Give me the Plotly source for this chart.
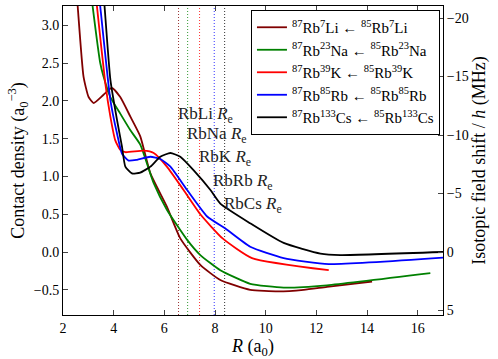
import plotly.graph_objects as go

# ---- data ----
R_li = [2.50, 2.58, 2.81, 3.01, 3.21, 3.60, 3.93, 4.26, 4.66, 5.05, 5.45, 6.10, 6.63, 7.42, 8.21, 9.39, 10.5, 11.5, 12.42, 14.2]
C_li = [3.60, 3.25, 2.32, 2.05, 1.97, 2.08, 2.17, 2.05, 1.79, 1.53, 1.04, 0.60, 0.18, -0.17, -0.37, -0.50, -0.52, -0.50, -0.46, -0.39]

R_na = [3.05, 3.17, 3.47, 3.60, 3.87, 4.26, 4.66, 5.05, 5.58, 6.10, 6.90, 7.42, 8.21, 9.39, 10.71, 12.42, 16.5]
C_na = [3.60, 3.25, 2.50, 2.32, 2.05, 1.83, 1.61, 1.42, 0.91, 0.56, 0.16, -0.04, -0.24, -0.42, -0.47, -0.44, -0.28]

R_k = [3.25, 3.34, 3.67, 3.87, 4.06, 4.26, 4.46, 5.18, 5.58, 6.10, 6.76, 7.42, 8.30, 9.46, 12.49]
C_k = [3.55, 3.25, 2.23, 1.79, 1.48, 1.35, 1.32, 1.34, 1.31, 1.13, 0.82, 0.50, 0.18, -0.08, -0.24]

R_rb = [3.38, 3.47, 3.87, 4.13, 4.33, 4.59, 4.92, 5.45, 5.84, 6.24, 6.90, 7.69, 8.41, 9.39, 10.71, 12.49, 17.0]
C_rb = [3.55, 3.25, 2.01, 1.57, 1.30, 1.21, 1.22, 1.26, 1.23, 1.13, 0.82, 0.47, 0.31, 0.07, -0.08, -0.16, -0.075]

R_cs = [3.57, 3.64, 3.87, 4.13, 4.33, 4.46, 4.72, 5.05, 5.45, 5.84, 6.24, 6.63, 7.16, 7.82, 8.21, 9.39, 10.71, 12.16, 12.95, 17.0]
C_cs = [3.55, 3.25, 2.28, 1.75, 1.39, 1.13, 1.04, 1.05, 1.13, 1.26, 1.31, 1.26, 1.08, 0.82, 0.64, 0.38, 0.12, -0.02, -0.04, 0.00]

names = [
    "<sup>87</sup>Rb<sup>7</sup>Li ← <sup>85</sup>Rb<sup>7</sup>Li",
    "<sup>87</sup>Rb<sup>23</sup>Na ← <sup>85</sup>Rb<sup>23</sup>Na",
    "<sup>87</sup>Rb<sup>39</sup>K ← <sup>85</sup>Rb<sup>39</sup>K",
    "<sup>87</sup>Rb<sup>85</sup>Rb ← <sup>85</sup>Rb<sup>85</sup>Rb",
    "<sup>87</sup>Rb<sup>133</sup>Cs ← <sup>85</sup>Rb<sup>133</sup>Cs",
]
colors = ["#800000", "#008000", "#ff0000", "#0000ff", "#000000"]
molecules = ["RbLi", "RbNa", "RbK", "RbRb", "RbCs"]
R_e = [6.56, 6.92, 7.39, 7.97, 8.38]
label_y = [1.81, 1.55, 1.24, 0.93, 0.62]

x_ticks = [2, 4, 6, 8, 10, 12, 14, 16]
y_ticks = [-0.5, 0.0, 0.5, 1.0, 1.5, 2.0, 2.5, 3.0]
y2_ticks = [-20, -15, -10, -5, 0, 5]

FONT = "Liberation Serif, DejaVu Serif, serif"

fig = go.Figure()
series = [(R_li, C_li), (R_na, C_na), (R_k, C_k), (R_rb, C_rb), (R_cs, C_cs)]
for (xs, ys), n, c in zip(series, names, colors):
    fig.add_trace(go.Scatter(x=xs, y=ys, mode="lines", name=n,
                             line=dict(color=c, width=1.8, shape="spline", smoothing=0.5)))
# dummy trace to activate the twin axis
fig.add_trace(go.Scatter(x=[None], y=[None], yaxis="y2", showlegend=False, hoverinfo="skip"))

for re_val, c, m, ly in zip(R_e, colors, molecules, label_y):
    fig.add_shape(type="line", x0=re_val, x1=re_val, y0=0, y1=1, xref="x", yref="paper",
                  line=dict(color=c, width=1, dash="1px,2px"), opacity=0.8, layer="below")
    fig.add_annotation(x=re_val, y=ly, xref="x", yref="y", text=f"{m} <i>R</i><sub>e</sub>",
                       showarrow=False, xanchor="left", yanchor="middle", xshift=-3,
                       font=dict(family=FONT, size=17, color="#222222"))

fig.update_layout(
    width=498, height=359,
    margin=dict(l=63, r=55, t=6, b=44, autoexpand=False),
    paper_bgcolor="white", plot_bgcolor="white",
    font=dict(family=FONT, size=14, color="black"),
    showlegend=True,
    legend=dict(x=0.992, y=0.987, xanchor="right", yanchor="top",
                bordercolor="black", borderwidth=1, bgcolor="white",
                font=dict(family=FONT, size=15), itemwidth=30, tracegroupgap=0),
    xaxis=dict(range=[2, 17], tickvals=x_ticks, ticks="inside", ticklen=5,
               showline=True, linecolor="black", linewidth=1, mirror="ticks",
               showgrid=False, zeroline=False, automargin=False,
               title=dict(text="<i>R</i> (a<sub>0</sub>)", font=dict(size=18), standoff=0),
               tickfont=dict(size=14)),
    yaxis=dict(range=[-0.833, 3.254], tickvals=y_ticks, tickformat=".1f",
               ticks="inside", ticklen=5,
               showline=True, linecolor="black", linewidth=1, mirror=True,
               showgrid=False, zeroline=False, automargin=False,
               title=dict(text="Contact density (a<sub>0</sub><sup>−3</sup>)", font=dict(size=18), standoff=4),
               tickfont=dict(size=14)),
    yaxis2=dict(overlaying="y", side="right", range=[5.38, -21.03], tickvals=y2_ticks,
                ticks="inside", ticklen=5, showline=True, linecolor="black", linewidth=1,
                showgrid=False, zeroline=False, automargin=False,
                title=dict(text="Isotopic field shift / <i>h</i> (MHz)", font=dict(size=18), standoff=4),
                tickfont=dict(size=14)),
)

fig.write_html("out.html", config={"displayModeBar": False},
               post_script="document.body.style.margin='0';")
